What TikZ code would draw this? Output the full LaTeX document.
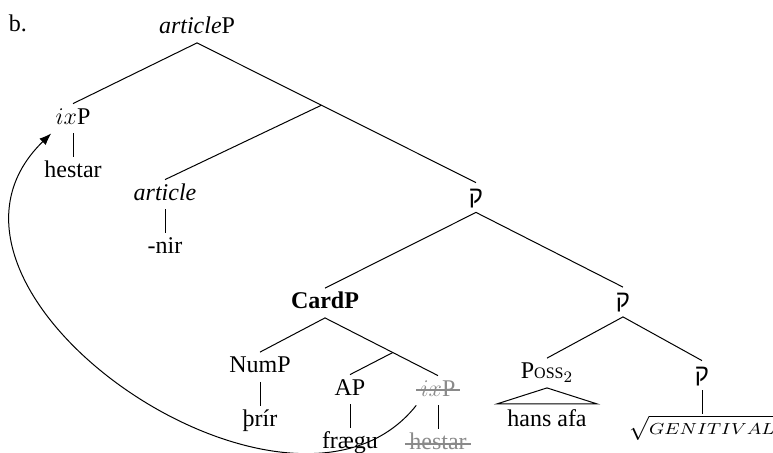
\documentclass[tikz,border=0pt]{standalone}
\usepackage{fontspec}
\setmainfont{Liberation Serif}
\newfontfamily\hebreo[Script=Hebrew]{Liberation Sans}
\usepackage{graphicx}
\usetikzlibrary{positioning,arrows.meta,calc}
\definecolor{cgris}{HTML}{8A8A8A}
\newcommand{\qof}{{\hebreo ק}}
\tikzset{
  nodo/.style={inner sep=2pt, text height=8pt, text depth=2.5pt,
    font=\fontsize{12}{14}\selectfont},
  hoja/.style={nodo, below=12pt of #1},
  gris/.style={text=cgris},
  rama/.style={draw=black, line width=0.5pt},
  tachado/.style={draw=cgris, line width=0.8pt},
  flecha/.style={-{Latex[length=6pt,width=4.5pt]}, line width=0.5pt},
}

\begin{document}
\begin{tikzpicture}[x=0.5pt, y=-0.5pt]
  \useasboundingbox (0,0) rectangle (773,452);
  \node[nodo] (b) at (18,26) {b.};
  \node[nodo] (ap) at (197,28) {\textit{article}P};
  \node[nodo] (ix) at (73,118.5) {$ix$P};
  \node[hoja=ix] (h1) {hestar};
  \node[nodo] (art) at (165,194.5) {\textit{article}};
  \node[hoja=art] (nir) {-nir};
  \node[nodo] (q1) at (476,197.5) {\qof};
  \node[nodo] (card) at (325,303) {\textbf{CardP}};
  \node[nodo] (q2) at (623,302) {\qof};
  \node[nodo] (num) at (260,367) {NumP};
  \node[hoja=num] (thr) {þrír};
  \node[nodo] (apn) at (350,389.5) {AP};
  \node[hoja=apn] (fr) {frægu};
  \node[nodo, gris] (ix2) at (438,390.5) {$ix$P};
  \node[hoja=ix2, gris] (h2) {hestar};
  \node[nodo] (poss) at (547,373) {P{\footnotesize OSS}$_2$};
  \node[nodo, below=8pt of poss, inner xsep=5pt, inner ysep=3pt] (hans) {hans afa};
  \node[nodo] (q3) at (702,375.5) {\qof};
  \node[hoja=q3, inner xsep=1pt] (gen) {$\sqrt{\scalebox{1.15}[1]{$\scriptstyle GENITIVAL$}}$};
  % puntos intermedios
  \coordinate (j1) at ($(ap.south)!0.446!(q1.north)$);
  \coordinate (j2) at ($(card.south)!0.6!(ix2.north)$);
  \draw[rama] (ap.south) -- (ix.north);
  \draw[rama] (ap.south) -- (j1) -- (q1.north);
  \draw[rama] (j1) -- (art.north);
  \draw[rama] (ix.south) -- (h1.north);
  \draw[rama] (art.south) -- (nir.north);
  \draw[rama] (q1.south) -- (card.north);
  \draw[rama] (q1.south) -- (q2.north);
  \draw[rama] (card.south) -- (num.north);
  \draw[rama] (card.south) -- (j2) -- (ix2.north);
  \draw[rama] (j2) -- (apn.north);
  \draw[rama] (num.south) -- (thr.north);
  \draw[rama] (apn.south) -- (fr.north);
  \draw[rama] (ix2.south) -- (h2.north);
  \draw[rama] (q2.south) -- (poss.north);
  \draw[rama] (q2.south) -- (q3.north);
  \draw[rama] (q3.south) -- (gen.north);
  \draw[rama] (poss.south) -- (hans.north west) -- (hans.north east) -- cycle;
  % copias tachadas
  \draw[tachado] ([yshift=3pt]ix2.base west) -- ([yshift=3pt]ix2.base east);
  \draw[tachado] ([yshift=3pt]h2.base west) -- ([yshift=3pt]h2.base east);
  % movimiento
  \draw[flecha] (ix2.south west) .. controls (290,565) and (-110,290) .. (ix.south west);
\end{tikzpicture}
\end{document}
